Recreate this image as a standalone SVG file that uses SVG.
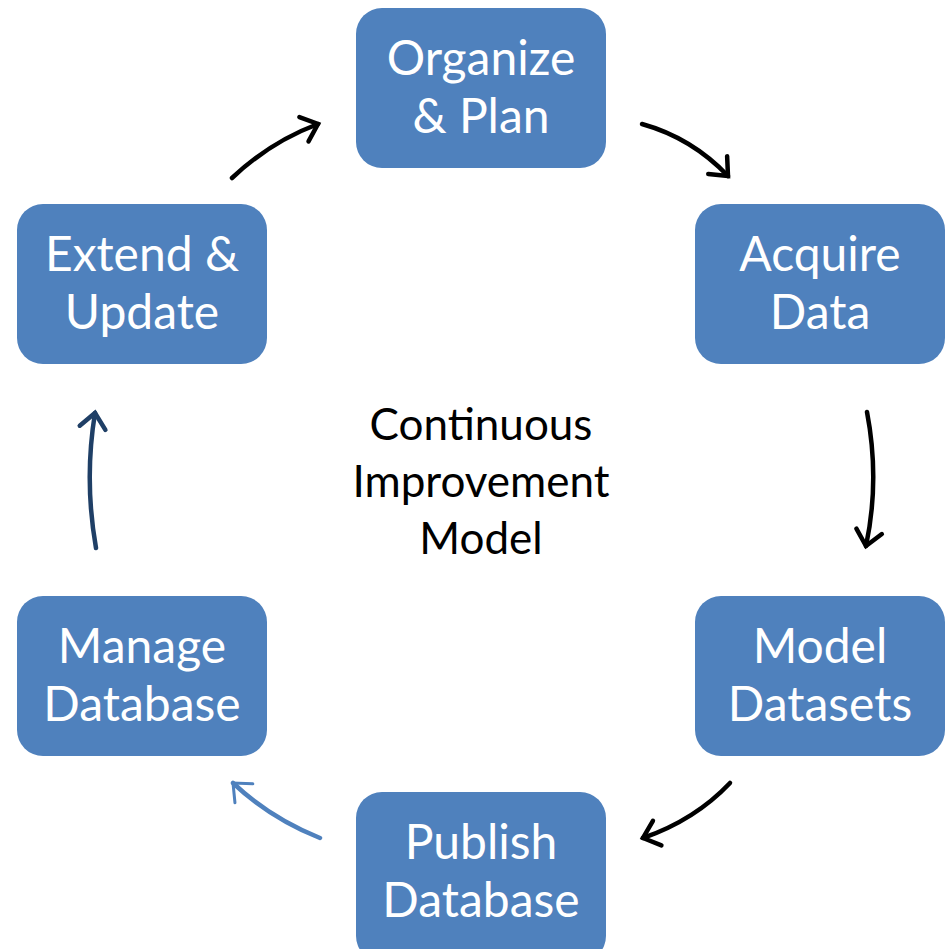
<svg xmlns="http://www.w3.org/2000/svg" width="947" height="949" viewBox="0 0 947 949">
<style>
.box{fill:#4F81BD;}
.lbl{font-family:Lato,"Open Sans",sans-serif;font-size:48px;fill:#FFFFFF;text-anchor:middle;}
.ctr{font-family:Lato,"Open Sans",sans-serif;font-size:44px;fill:#000000;text-anchor:middle;}
.arr{fill:none;stroke-width:4.5;stroke-linecap:round;}
</style>
<defs>
<marker id="hk" markerUnits="userSpaceOnUse" orient="auto" overflow="visible" refX="0" refY="0" markerWidth="30" markerHeight="30">
<path d="M-15,-13 L0,0 L-15,13" fill="none" stroke="#000000" stroke-width="4.5" stroke-linecap="round" stroke-linejoin="miter"/>
</marker>
<marker id="hb" markerUnits="userSpaceOnUse" orient="auto" overflow="visible" refX="0" refY="0" markerWidth="30" markerHeight="30">
<path d="M-15,-13 L0,0 L-15,13" fill="none" stroke="#4F81BD" stroke-width="3" stroke-linecap="round"/>
</marker>
<marker id="hn" markerUnits="userSpaceOnUse" orient="auto" overflow="visible" refX="0" refY="0" markerWidth="30" markerHeight="30">
<path d="M-15,-13 L0,0 L-15,13" fill="none" stroke="#1F3F66" stroke-width="4.5" stroke-linecap="round"/>
</marker>
</defs>
<rect width="947" height="949" fill="#FFFFFF"/>
<g id="connectors">
<path class="arr" stroke="#000000" d="M232,178 Q270,142 318,124" marker-end="url(#hk)"/>
<path class="arr" stroke="#000000" d="M642,124 Q692,138 728,176" marker-end="url(#hk)"/>
<path class="arr" stroke="#000000" d="M867,412 Q880,480 866,546" marker-end="url(#hk)"/>
<path class="arr" stroke="#000000" d="M730,783 Q695,820 643,838" marker-end="url(#hk)"/>
<path class="arr" stroke="#4F81BD" stroke-width="3" d="M320,838 Q270,818 233,783" marker-end="url(#hb)"/>
<path class="arr" stroke="#1F3F66" d="M96,548 Q84,480 95,413" marker-end="url(#hn)"/>
</g>
<g id="organize">
<rect class="box" x="356" y="8" width="250" height="160" rx="26"/>
<text class="lbl" x="481" y="75">Organize</text>
<text class="lbl" x="481" y="133">&amp; Plan</text>
</g>
<g id="acquire">
<rect class="box" x="695" y="204" width="250" height="160" rx="26"/>
<text class="lbl" x="820" y="271">Acquire</text>
<text class="lbl" x="820" y="329">Data</text>
</g>
<g id="model">
<rect class="box" x="695" y="596" width="250" height="160" rx="26"/>
<text class="lbl" x="820" y="663">Model</text>
<text class="lbl" x="820" y="721">Datasets</text>
</g>
<g id="publish">
<rect class="box" x="356" y="792" width="250" height="170" rx="26"/>
<text class="lbl" x="481" y="859">Publish</text>
<text class="lbl" x="481" y="917">Database</text>
</g>
<g id="manage">
<rect class="box" x="17" y="596" width="250" height="160" rx="26"/>
<text class="lbl" x="142" y="663">Manage</text>
<text class="lbl" x="142" y="721">Database</text>
</g>
<g id="extend">
<rect class="box" x="17" y="204" width="250" height="160" rx="26"/>
<text class="lbl" x="142" y="271">Extend &amp;</text>
<text class="lbl" x="142" y="329">Update</text>
</g>
<g id="center">
<text class="ctr" x="481" y="440">Continuous</text>
<text class="ctr" x="481" y="497">Improvement</text>
<text class="ctr" x="481" y="554">Model</text>
</g>
</svg>
